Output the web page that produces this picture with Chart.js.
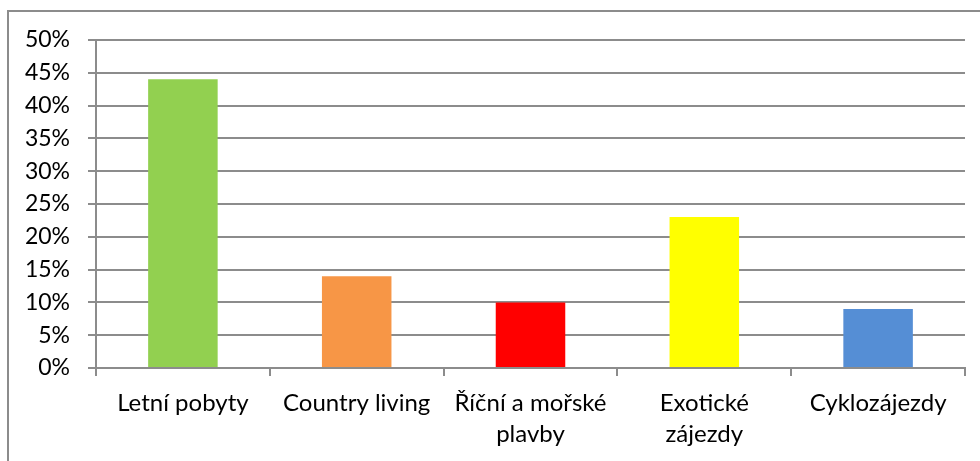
<!DOCTYPE html>
<html>
<head>
<meta charset="utf-8">
<script src="https://cdn.jsdelivr.net/npm/chart.js@4"></script>
<style>
  body { margin: 0; background: #fff; }
</style>
</head>
<body>
<canvas id="tripChart" width="980" height="461"></canvas>
<script>
var categories = ["Letní pobyty", "Country living", ["Říční a mořské", "plavby"], ["Exotické", "zájezdy"], "Cyklozájezdy"]
var shares = [44, 14, 10, 23, 9]
var barColours = ["#92D050", "#F79646", "#FF0000", "#FFFF00", "#558ED5"]

var axisGrey = "#8c8c8c"

// frame line around the chart (only left and top are visible)
var framePlugin = {
  id: "frame",
  beforeDraw: function(chart) {
    var ctx = chart.ctx
    ctx.save()
    ctx.strokeStyle = axisGrey
    ctx.lineWidth = 2
    ctx.beginPath()
    ctx.moveTo(8, chart.height + 2)
    ctx.lineTo(8, 11)
    ctx.lineTo(chart.width + 2, 11)
    ctx.stroke()
    ctx.restore()
  }
}

Chart.defaults.font.family = "Lato"
Chart.defaults.font.size = 23
Chart.defaults.color = "#000"

new Chart(document.getElementById("tripChart"), {
  type: "bar",
  data: {
    labels: categories,
    datasets: [{
      data: shares,
      backgroundColor: barColours,
      barPercentage: 0.4,
      categoryPercentage: 1
    }]
  },
  options: {
    responsive: false,
    animation: false,
    layout: {
      padding: { top: 40, right: 15, left: 0, bottom: 0 }
    },
    plugins: {
      legend: { display: false },
      tooltip: { enabled: false }
    },
    scales: {
      x: {
        offset: true,
        grid: {
          display: true,
          offset: true,
          drawOnChartArea: false,
          drawTicks: true,
          tickLength: 8,
          color: axisGrey,
          lineWidth: 2
        },
        border: { color: axisGrey, width: 2 },
        ticks: {
          padding: 11,
          maxRotation: 0,
          autoSkip: false,
          font: { size: 24, lineHeight: 1.32 }
        },
        afterFit: function(scale) { scale.height = 93 }
      },
      y: {
        min: 0,
        max: 50,
        grid: {
          color: axisGrey,
          lineWidth: 2,
          tickLength: 8
        },
        border: { color: axisGrey, width: 2 },
        ticks: {
          stepSize: 5,
          padding: 18,
          callback: function(value) { return value + "%" }
        },
        afterFit: function(scale) { scale.width = 96 }
      }
    }
  },
  plugins: [framePlugin]
})
</script>
</body>
</html>
